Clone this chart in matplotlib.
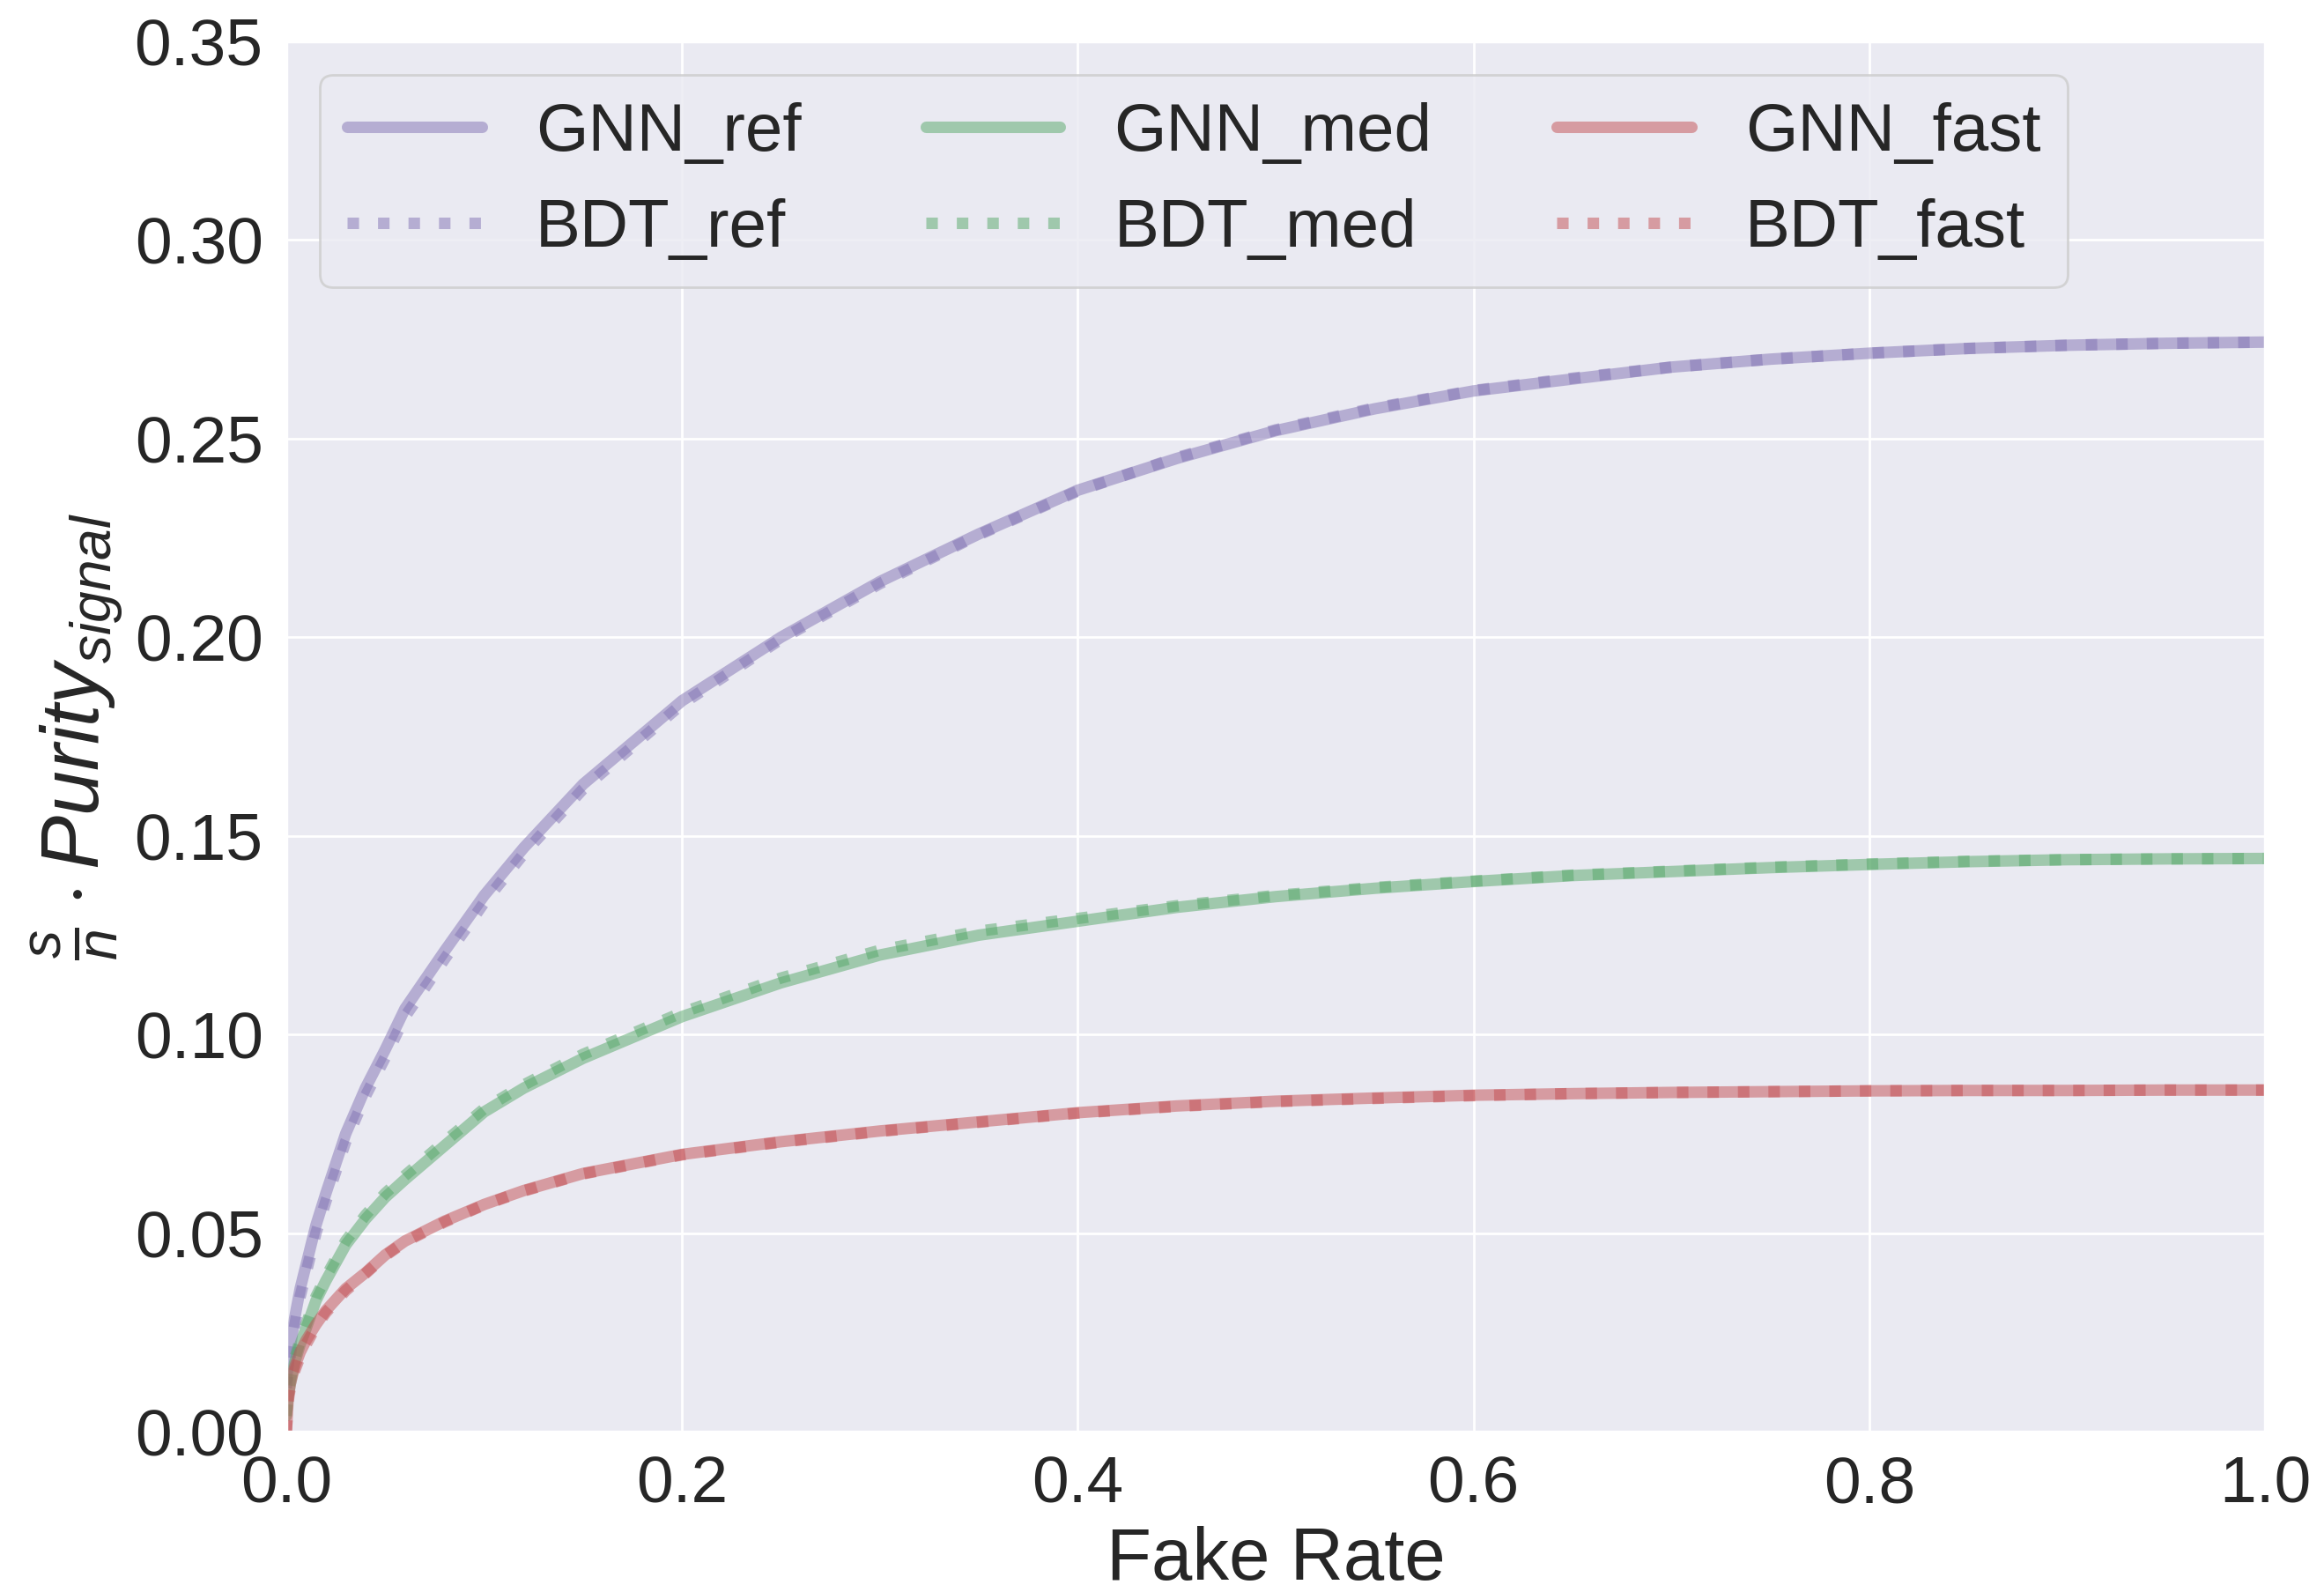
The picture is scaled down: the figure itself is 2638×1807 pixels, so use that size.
import matplotlib
matplotlib.use("Agg")
import matplotlib.pyplot as plt
import seaborn as sns

sns.set_theme(style="darkgrid")
plt.rcParams["font.family"] = ["Liberation Sans", "DejaVu Sans"]
plt.rcParams["mathtext.fontset"] = "custom"
plt.rcParams["mathtext.rm"] = "Liberation Sans"
plt.rcParams["mathtext.it"] = "Liberation Sans:italic"

fake_rate = [0.0, 0.001, 0.002, 0.004, 0.007, 0.01, 0.015, 0.02, 0.03, 0.04,
             0.05, 0.06, 0.08, 0.1, 0.12, 0.15, 0.2, 0.25, 0.3, 0.35,
             0.4, 0.45, 0.5, 0.55, 0.6, 0.65, 0.7, 0.75, 0.8, 0.85,
             0.9, 0.95, 1.0]

gnn_ref = [0.013, 0.017, 0.021, 0.028, 0.036, 0.042, 0.052, 0.060, 0.075, 0.0865,
           0.0962, 0.1065, 0.121, 0.135, 0.147, 0.163, 0.184, 0.200, 0.214, 0.226,
           0.237, 0.245, 0.252, 0.2575, 0.262, 0.265, 0.268, 0.270, 0.2715, 0.2727,
           0.2735, 0.274, 0.2743]
bdt_ref = [0.011, 0.015, 0.019, 0.026, 0.034, 0.040, 0.050, 0.058, 0.073, 0.0845,
           0.0942, 0.1045, 0.119, 0.1332, 0.1455, 0.1618, 0.1832, 0.1995, 0.2135, 0.2258,
           0.2368, 0.2452, 0.2522, 0.2577, 0.2621, 0.2652, 0.268, 0.270, 0.2715, 0.2727,
           0.2735, 0.274, 0.2743]

gnn_med = [0.004, 0.009, 0.012, 0.017, 0.022, 0.026, 0.033, 0.038, 0.047, 0.0535,
           0.059, 0.0635, 0.072, 0.0805, 0.0865, 0.094, 0.1045, 0.113, 0.120, 0.125,
           0.1285, 0.132, 0.1347, 0.1368, 0.1385, 0.140, 0.141, 0.142, 0.1428, 0.1435,
           0.144, 0.1442, 0.1443]
bdt_med = [0.004, 0.010, 0.013, 0.018, 0.023, 0.027, 0.034, 0.039, 0.048, 0.0545,
           0.060, 0.0645, 0.073, 0.0813, 0.0873, 0.095, 0.1055, 0.1142, 0.1212, 0.126,
           0.1292, 0.1324, 0.135, 0.137, 0.1386, 0.1401, 0.1411, 0.1421, 0.1429, 0.1436,
           0.144, 0.1442, 0.1443]

gnn_fast = [0.0, 0.009, 0.012, 0.016, 0.020, 0.023, 0.027, 0.0305, 0.036, 0.040,
            0.0445, 0.048, 0.053, 0.0572, 0.0607, 0.065, 0.0698, 0.073, 0.0757, 0.078,
            0.0803, 0.082, 0.0832, 0.084, 0.0847, 0.0851, 0.0854, 0.0856, 0.0858, 0.0859,
            0.0859, 0.086, 0.086]
bdt_fast = [0.0, 0.008, 0.011, 0.015, 0.019, 0.022, 0.0265, 0.030, 0.0355, 0.0398,
            0.0443, 0.0478, 0.0528, 0.0571, 0.0606, 0.0649, 0.0697, 0.0729, 0.0756, 0.0779,
            0.0802, 0.0819, 0.0831, 0.0839, 0.0846, 0.0851, 0.0854, 0.0856, 0.0858, 0.0859,
            0.0859, 0.086, 0.086]

deep = sns.color_palette("deep")
series = [
    ("GNN_ref", gnn_ref, deep[4], "-"),
    ("BDT_ref", bdt_ref, deep[4], ":"),
    ("GNN_med", gnn_med, deep[2], "-"),
    ("BDT_med", bdt_med, deep[2], ":"),
    ("GNN_fast", gnn_fast, deep[3], "-"),
    ("BDT_fast", bdt_fast, deep[3], ":"),
]

fig, ax = plt.subplots(figsize=(2638 / 200, 1807 / 200), dpi=200)
fig.subplots_adjust(left=0.1232, right=0.9746, bottom=0.1007, top=0.974)

for label, vals, color, ls in series:
    ax.plot(fake_rate, vals, ls, color=color, lw=4.7, alpha=0.5, label=label)

ax.set_xlim(0, 1)
ax.set_ylim(0, 0.35)
ax.set_xticks([0.0, 0.2, 0.4, 0.6, 0.8, 1.0])
ax.set_xticklabels(["0.0", "0.2", "0.4", "0.6", "0.8", "1.0"])
ax.set_yticks([0.0, 0.05, 0.1, 0.15, 0.2, 0.25, 0.3, 0.35])
ax.set_yticklabels(["0.00", "0.05", "0.10", "0.15", "0.20", "0.25", "0.30", "0.35"])
ax.tick_params(labelsize=27)
ax.set_xlabel("Fake Rate", fontsize=30, labelpad=4)
ax.set_ylabel(r"$\frac{s}{n} \cdot Purity_{signal}$", fontsize=33, labelpad=4)

ax.legend(ncol=3, loc="upper left", fontsize=27.5, handlelength=2.0,
          columnspacing=1.85, borderaxespad=0.5)

fig.savefig("out.png", dpi=200)
